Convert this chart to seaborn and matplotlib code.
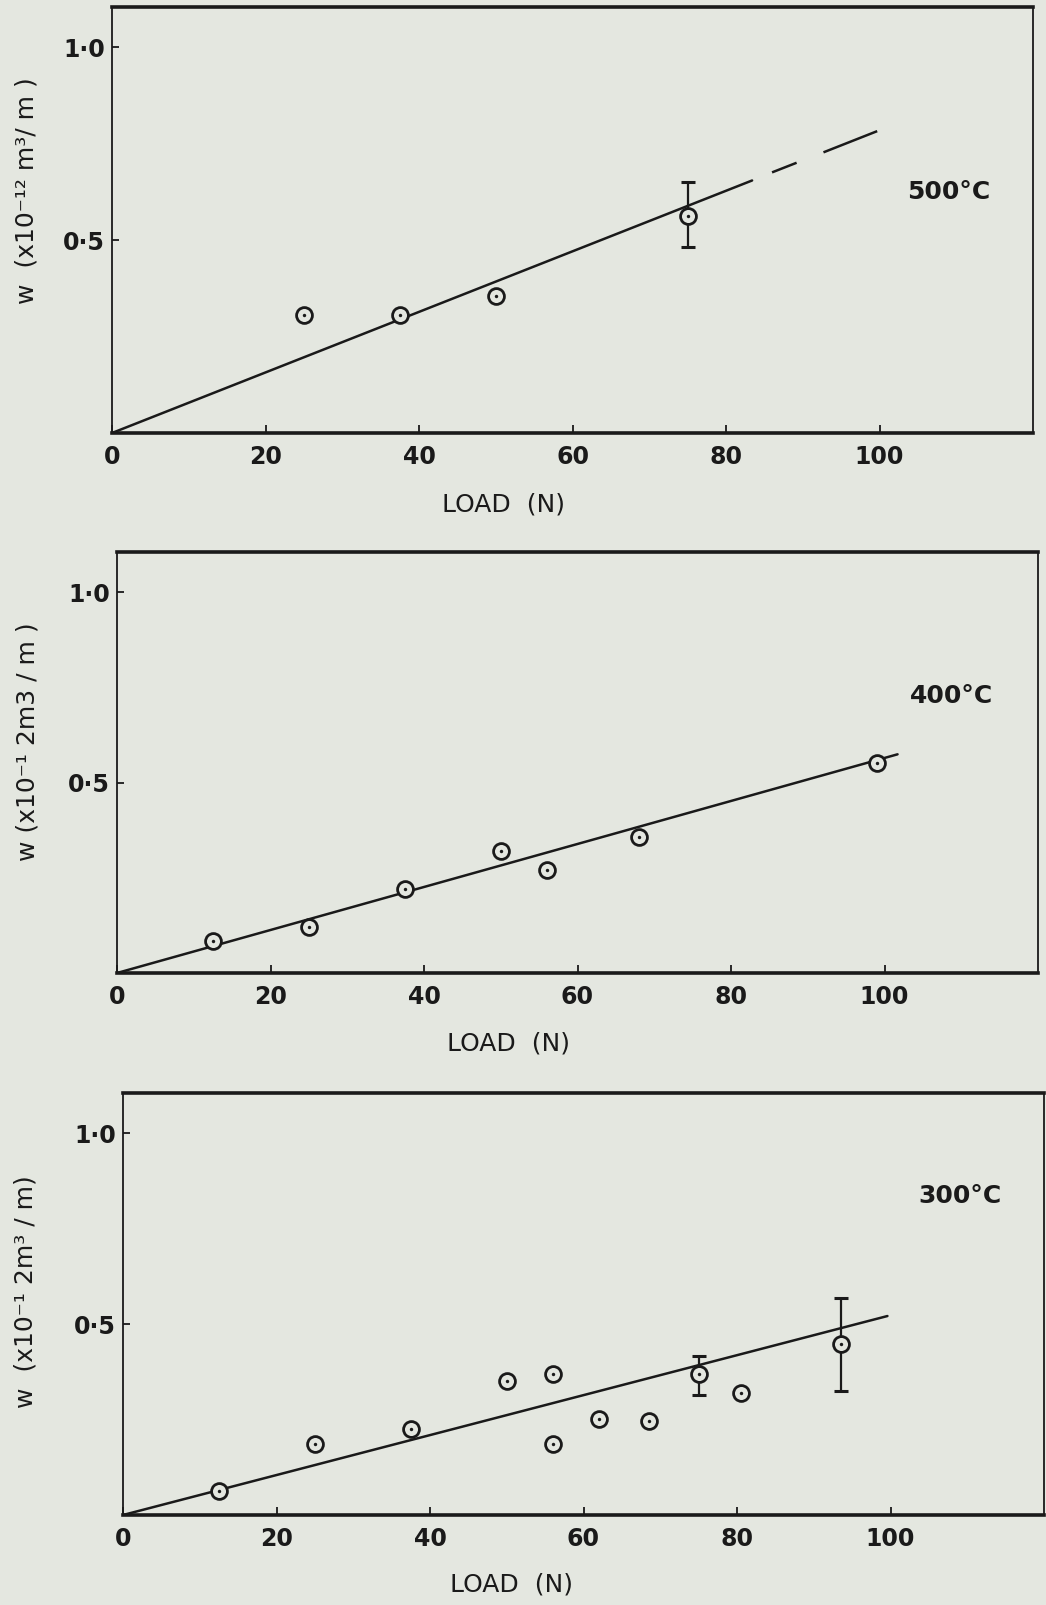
import matplotlib
matplotlib.use("Agg")
import matplotlib.pyplot as plt
import seaborn as sns
import pandas as pd
import numpy as np

# ---------------- data ----------------
load_500 = [25, 37.5, 50, 75]
w_500 = [0.307, 0.307, 0.355, 0.563]
err_x_500 = [75]
err_y_500 = [0.563]
err_lo_500 = [0.482]
err_hi_500 = [0.650]
fit_solid_x_500 = [0, 83.4]
fit_solid_y_500 = [0, 0.655]
# extrapolated (dashed) part of the fit: two dashes separated by NaN
fit_dash_x_500 = [86.0, 89.2, np.nan, 92.7, 99.7]
fit_dash_y_500 = [0.676, 0.701, np.nan, 0.728, 0.783]

load_400 = [12.5, 25, 37.5, 50, 56, 68, 99]
w_400 = [0.083, 0.120, 0.220, 0.319, 0.271, 0.358, 0.550]
fit_x_400 = [0, 101.7]
fit_y_400 = [0, 0.574]

load_300 = [12.5, 25, 37.5, 50, 56, 56, 62, 68.5, 75, 80.5, 93.5]
w_300 = [0.063, 0.186, 0.225, 0.350, 0.370, 0.186, 0.251, 0.247, 0.368, 0.320, 0.447]
err_x_300 = [75, 93.5]
err_y_300 = [0.368, 0.447]
err_lo_300 = [0.313, 0.324]
err_hi_300 = [0.416, 0.569]
fit_x_300 = [0, 99.6]
fit_y_300 = [0, 0.521]

x_ticks = [0, 20, 40, 60, 80, 100]
x_ticklabels = ["0", "20", "40", "60", "80", "100"]
y_ticks = [0.5, 1.0]
y_ticklabels = ["0·5", "1·0"]
temp_labels = ["500°C", "400°C", "300°C"]
ylabels = ["w  (x10⁻¹² m³/ m )", "w (x10⁻¹ 2m3 / m )", "w  (x10⁻¹ 2m³ / m)"]
xlabel = "LOAD  (N)"

# ---------------- style ----------------
bg = "#e4e7e0"
sns.set_theme(style="white")
plt.rcParams["font.family"] = ["DejaVu Sans"]
plt.rcParams["figure.facecolor"] = bg
plt.rcParams["axes.facecolor"] = bg

fig = plt.figure(figsize=(10.46, 16.05), dpi=100)

positions = [
    [112 / 1046, 1 - 433 / 1605, 921 / 1046, 426 / 1605],
    [117 / 1046, 1 - 973 / 1605, 921 / 1046, 421 / 1605],
    [123 / 1046, 1 - 1515 / 1605, 921 / 1046, 422 / 1605],
]
ylabel_coords = [(-0.080, 0.57), (-0.084, 0.55), (-0.093, 0.53)]
xlabel_coords = [(0.425, -0.14), (0.425, -0.14), (0.422, -0.137)]
temp_pos = [(109, 0.625), (108.7, 0.727), (109, 0.835)]

panels = [
    (load_500, w_500),
    (load_400, w_400),
    (load_300, w_300),
]

ink = "#1a1a1a"

for i, (lx, wy) in enumerate(panels):
    ax = fig.add_axes(positions[i])
    df = pd.DataFrame({"load": lx, "w": wy})

    # fit lines
    if i == 0:
        sns.lineplot(x=fit_solid_x_500, y=fit_solid_y_500, ax=ax, color=ink, lw=1.8)
        ax.plot(fit_dash_x_500, fit_dash_y_500, color=ink, lw=1.8,
                solid_capstyle="butt")
    elif i == 1:
        sns.lineplot(x=fit_x_400, y=fit_y_400, ax=ax, color=ink, lw=1.8)
    else:
        sns.lineplot(x=fit_x_300, y=fit_y_300, ax=ax, color=ink, lw=1.8)

    # error bars
    if i == 0:
        ex, ey, elo, ehi = err_x_500, err_y_500, err_lo_500, err_hi_500
    elif i == 2:
        ex, ey, elo, ehi = err_x_300, err_y_300, err_lo_300, err_hi_300
    else:
        ex = []
    if ex:
        ey_a = np.array(ey)
        yerr = [ey_a - np.array(elo), np.array(ehi) - ey_a]
        ax.errorbar(ex, ey, yerr=yerr, fmt="none", ecolor=ink, elinewidth=1.6,
                    capsize=5, capthick=2.2)

    # markers: open circle with centre dot
    sns.scatterplot(data=df, x="load", y="w", ax=ax, marker="o", s=130,
                    facecolor=bg, edgecolor=ink, linewidth=2.0, zorder=5)
    sns.scatterplot(data=df, x="load", y="w", ax=ax, marker="o", s=6,
                    color=ink, linewidth=0, zorder=6)

    ax.set_xlim(0, 120)
    ax.set_ylim(0, 1.105)
    ax.set_xticks(x_ticks)
    ax.set_xticklabels(x_ticklabels)
    ax.set_yticks(y_ticks)
    ax.set_yticklabels(y_ticklabels)
    ax.tick_params(axis="x", direction="in", length=6, width=1.3, pad=9,
                   labelsize=17, colors=ink, bottom=True)
    ax.tick_params(axis="y", direction="in", length=5, width=1.3, pad=5,
                   labelsize=17, colors=ink, left=True)
    for lab in ax.get_xticklabels() + ax.get_yticklabels():
        lab.set_fontweight("semibold")

    for side in ["top", "bottom"]:
        ax.spines[side].set_linewidth(2.6)
        ax.spines[side].set_color(ink)
    for side in ["left", "right"]:
        ax.spines[side].set_linewidth(1.3)
        ax.spines[side].set_color(ink)
        ax.spines[side].set_visible(True)

    ax.set_xlabel(xlabel, fontsize=18, color=ink)
    ax.xaxis.set_label_coords(*xlabel_coords[i])
    ax.set_ylabel(ylabels[i], fontsize=18, color=ink)
    ax.yaxis.set_label_coords(*ylabel_coords[i])

    ax.text(temp_pos[i][0], temp_pos[i][1], temp_labels[i], fontsize=18,
            color=ink, ha="center", va="center", fontweight="semibold")

fig.savefig("out.png", dpi=100, facecolor=bg)
